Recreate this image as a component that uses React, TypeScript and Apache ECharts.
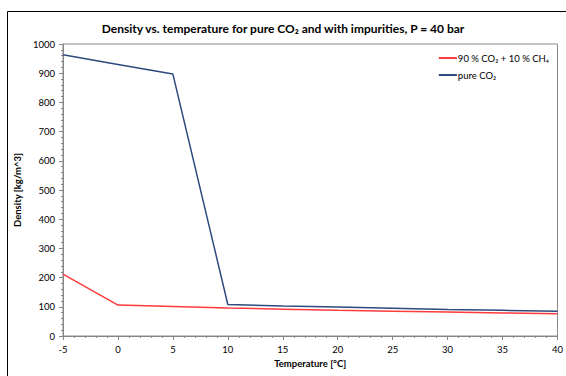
import React, { useEffect, useRef } from "react";
import * as echarts from "echarts";

const temperatures = [-5, 0, 5, 10, 15, 20, 25, 30, 35, 40];
const mixDensity = [212, 106, 101, 96, 92, 88, 85, 82, 79, 76];
const pureDensity = [963, 930, 897, 108, 103, 99, 95, 91, 88, 85];
const seriesNames = ["90 % CO₂ + 10 % CH₄", "pure CO₂"];

export default function App() {
  const ref = useRef<HTMLDivElement>(null);
  useEffect(() => {
    const chart = echarts.init(ref.current!, null, { renderer: "svg" });
    const font = "Lato";
    chart.setOption({
      animation: false,
      backgroundColor: "#fff",
      title: {
        text: "Density vs. temperature for pure CO₂ and with impurities, P = 40 bar",
        left: "center",
        top: 17,
        textStyle: { fontFamily: font, fontSize: 12, fontWeight: "bold", color: "#000" },
      },
      graphic: [
        {
          type: "rect",
          left: 5,
          top: 9,
          shape: { width: 600, height: 400 },
          style: { fill: "none", stroke: "#000", lineWidth: 1 },
          silent: true,
        },
      ],
      legend: {
        orient: "vertical",
        right: 12,
        top: 48,
        itemWidth: 18,
        itemHeight: 2,
        itemGap: 7,
        icon: "rect",
        textStyle: { fontFamily: font, fontSize: 9.5, color: "#000", padding: [0, 0, 0, -4] },
        data: seriesNames,
      },
      grid: {
        left: 63,
        right: 7,
        top: 44,
        bottom: 40,
        show: true,
        borderColor: "#888",
        borderWidth: 1,
      },
      xAxis: {
        type: "value",
        min: -5,
        max: 40,
        interval: 5,
        name: "Temperature [°C]",
        nameLocation: "middle",
        nameGap: 22,
        nameTextStyle: { fontFamily: font, fontSize: 9.5, fontWeight: "bold", color: "#000" },
        axisLine: { onZero: false, lineStyle: { color: "#868686" } },
        axisTick: { show: true, length: 4, lineStyle: { color: "#868686" } },
        minorTick: { show: true, splitNumber: 5, length: 2, lineStyle: { color: "#868686" } },
        axisLabel: { fontFamily: font, fontSize: 9.5, color: "#000", margin: 8 },
        splitLine: { show: false },
      },
      yAxis: {
        type: "value",
        min: 0,
        max: 1000,
        interval: 100,
        name: "Density [kg/m^3]",
        nameLocation: "middle",
        nameGap: 40,
        nameTextStyle: { fontFamily: font, fontSize: 9.5, fontWeight: "bold", color: "#000" },
        axisLine: { show: true, onZero: false, lineStyle: { color: "#868686" } },
        axisTick: { show: true, length: 4, lineStyle: { color: "#868686" } },
        minorTick: { show: true, splitNumber: 5, length: 2, lineStyle: { color: "#868686" } },
        axisLabel: { fontFamily: font, fontSize: 9.5, color: "#000", margin: 8, formatter: (v: number) => String(v) },
        splitLine: { show: false },
      },
      series: [
        {
          name: seriesNames[0],
          type: "line",
          data: temperatures.map((t, i) => [t, mixDensity[i]]),
          showSymbol: false,
          symbol: "none",
          lineStyle: { color: "#ff3b3b", width: 1.5 },
          itemStyle: { color: "#ff3b3b" },
        },
        {
          name: seriesNames[1],
          type: "line",
          data: temperatures.map((t, i) => [t, pureDensity[i]]),
          showSymbol: false,
          symbol: "none",
          lineStyle: { color: "#2c4a7e", width: 1.5 },
          itemStyle: { color: "#2c4a7e" },
        },
      ],
    });
    return () => chart.dispose();
  }, []);
  return <div ref={ref} style={{ width: 566, height: 376, position: "absolute", left: 0, top: 0 }} />;
}
